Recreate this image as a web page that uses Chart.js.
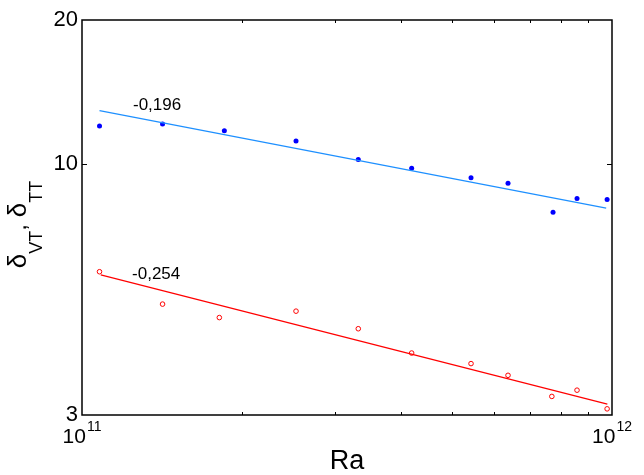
<!DOCTYPE html>
<html>
<head>
<meta charset="utf-8">
<script src="https://cdn.jsdelivr.net/npm/chart.js@4/dist/chart.umd.min.js"></script>
<style>
  body { margin: 0; background: #fff; }
</style>
</head>
<body>
<canvas id="boundary" width="644" height="475"></canvas>
<script>
// data
var raVT = [1.079e11, 1.419e11, 1.856e11, 2.534e11, 3.321e11, 4.188e11, 5.42e11, 6.365e11, 7.74e11, 8.59e11, 9.79e11];
var deltaVT = [12.02, 12.14, 11.75, 11.19, 10.24, 9.81, 9.38, 9.13, 7.94, 8.49, 8.45];
var raTT = [1.079e11, 1.419e11, 1.816e11, 2.534e11, 3.321e11, 4.188e11, 5.42e11, 6.365e11, 7.70e11, 8.59e11, 9.79e11];
var deltaTT = [5.97, 5.11, 4.79, 4.94, 4.54, 4.04, 3.84, 3.63, 3.28, 3.38, 3.09];

// fitted power laws
var fitVTx = [1.079e11, 9.75e11];
var fitVTy = [12.94, 8.10];
var fitTTx = [1.085e11, 9.8e11];
var fitTTy = [5.88, 3.16];

var xTicks = [1e11, 1e12];
var xMinor = [2e11, 3e11, 4e11, 5e11, 6e11, 7e11, 8e11, 9e11];
var yTicks = [3, 10, 20];

var notes = [
  {text: '-0,196', x: 1.248e11, y: 13.3},
  {text: '-0,254', x: 1.243e11, y: 5.9}
];

var FONT = '"Liberation Sans", Arial, sans-serif';

function pts(xs, ys) {
  return xs.map(function(x, i) { return {x: x, y: ys[i]}; });
}

// frame, inward ticks, power labels, notes and the y title
var decor = {
  id: 'decor',
  afterDraw: function(chart) {
    var ctx = chart.ctx;
    var a = chart.chartArea;
    var sx = chart.scales.x, sy = chart.scales.y;
    ctx.save();
    ctx.strokeStyle = '#000';
    ctx.lineWidth = 1;
    xMinor.forEach(function(v) {
      var px = Math.round(sx.getPixelForValue(v)) + 0.5;
      ctx.beginPath();
      ctx.moveTo(px, a.bottom); ctx.lineTo(px, a.bottom - 3);
      ctx.moveTo(px, a.top); ctx.lineTo(px, a.top + 3);
      ctx.stroke();
    });
    var py = Math.round(sy.getPixelForValue(10)) + 0.5;
    ctx.beginPath();
    ctx.moveTo(a.left, py); ctx.lineTo(a.left + 5, py);
    ctx.moveTo(a.right, py); ctx.lineTo(a.right - 5, py);
    ctx.stroke();

    ctx.lineWidth = 1.5;
    ctx.strokeRect(a.left, a.top, a.right - a.left, a.bottom - a.top);

    ctx.fillStyle = '#000';
    ctx.textBaseline = 'alphabetic';
    ctx.textAlign = 'left';

    // x tick labels 10^n
    xTicks.forEach(function(v) {
      var base = '10', ex = String(Math.round(Math.log10(v)));
      ctx.font = '21px ' + FONT;
      var wb = ctx.measureText(base).width;
      ctx.font = '14px ' + FONT;
      var we = ctx.measureText(ex).width;
      var x0 = sx.getPixelForValue(v) - (wb + we + 1) / 2;
      ctx.font = '21px ' + FONT;
      ctx.fillText(base, x0, a.bottom + 28);
      ctx.font = '14px ' + FONT;
      ctx.fillText(ex, x0 + wb + 1, a.bottom + 16);
    });

    ctx.font = '17px ' + FONT;
    ctx.textBaseline = 'middle';
    notes.forEach(function(n) {
      ctx.fillText(n.text, sx.getPixelForValue(n.x), sy.getPixelForValue(n.y));
    });

    // y title: delta_VT, delta_TT
    var parts = [
      {t: 'δ', f: '26px ' + FONT, dy: 0},
      {t: 'VT', f: '18px ' + FONT, dy: 16},
      {t: ', ', f: '24px ' + FONT, dy: 0},
      {t: 'δ', f: '26px ' + FONT, dy: 0},
      {t: 'TT', f: '18px ' + FONT, dy: 16}
    ];
    var total = 0;
    parts.forEach(function(p) { ctx.font = p.f; p.w = ctx.measureText(p.t).width; total += p.w; });
    ctx.translate(26, (a.top + a.bottom) / 2 + 7);
    ctx.rotate(-Math.PI / 2);
    ctx.textBaseline = 'alphabetic';
    var cx = -total / 2;
    parts.forEach(function(p) {
      ctx.font = p.f;
      ctx.fillText(p.t, cx, p.dy);
      cx += p.w;
    });
    ctx.restore();
  }
};

var ctx = document.getElementById('boundary').getContext('2d');
var chart = new Chart(ctx, {
  type: 'scatter',
  data: {
    datasets: [
      {
        type: 'line',
        data: pts(fitVTx, fitVTy),
        borderColor: 'rgb(30, 144, 255)',
        borderWidth: 1.2,
        pointRadius: 0,
        fill: false
      },
      {
        data: pts(raVT, deltaVT),
        backgroundColor: '#0000ff',
        borderColor: '#0000ff',
        pointRadius: 2.5,
        borderWidth: 0
      },
      {
        type: 'line',
        data: pts(fitTTx, fitTTy),
        borderColor: '#ff0000',
        borderWidth: 1.2,
        pointRadius: 0,
        fill: false
      },
      {
        data: pts(raTT, deltaTT),
        backgroundColor: 'rgba(255,255,255,0)',
        borderColor: '#ff0000',
        pointRadius: 2.3,
        borderWidth: 1
      }
    ]
  },
  options: {
    responsive: false,
    animation: false,
    layout: { padding: { top: 20, right: 32, left: 0, bottom: 0 } },
    plugins: {
      legend: { display: false },
      tooltip: { enabled: false }
    },
    scales: {
      x: {
        type: 'logarithmic',
        min: 1e11,
        max: 1e12,
        afterBuildTicks: function(s) { s.ticks = xTicks.map(function(v) { return {value: v}; }); },
        afterFit: function(s) { s.height = 60; s.paddingLeft = 0; s.paddingRight = 0; },
        grid: { display: false, drawTicks: false },
        border: { display: false },
        ticks: {
          autoSkip: false,
          maxRotation: 0,
          callback: function() { return ''; }
        },
        title: {
          display: true,
          text: 'Ra',
          color: '#000',
          font: { family: FONT, size: 27, lineHeight: 1 },
          padding: { top: 0, bottom: 0 }
        }
      },
      y: {
        type: 'logarithmic',
        min: 3,
        max: 20,
        afterBuildTicks: function(s) { s.ticks = yTicks.map(function(v) { return {value: v}; }); },
        afterFit: function(s) { s.width = 82; },
        grid: { display: false, drawTicks: false },
        border: { display: false },
        ticks: {
          autoSkip: false,
          padding: 4,
          color: '#000',
          font: { family: FONT, size: 22 },
          callback: function(v) { return String(v); }
        }
      }
    }
  },
  plugins: [decor]
});
</script>
</body>
</html>
